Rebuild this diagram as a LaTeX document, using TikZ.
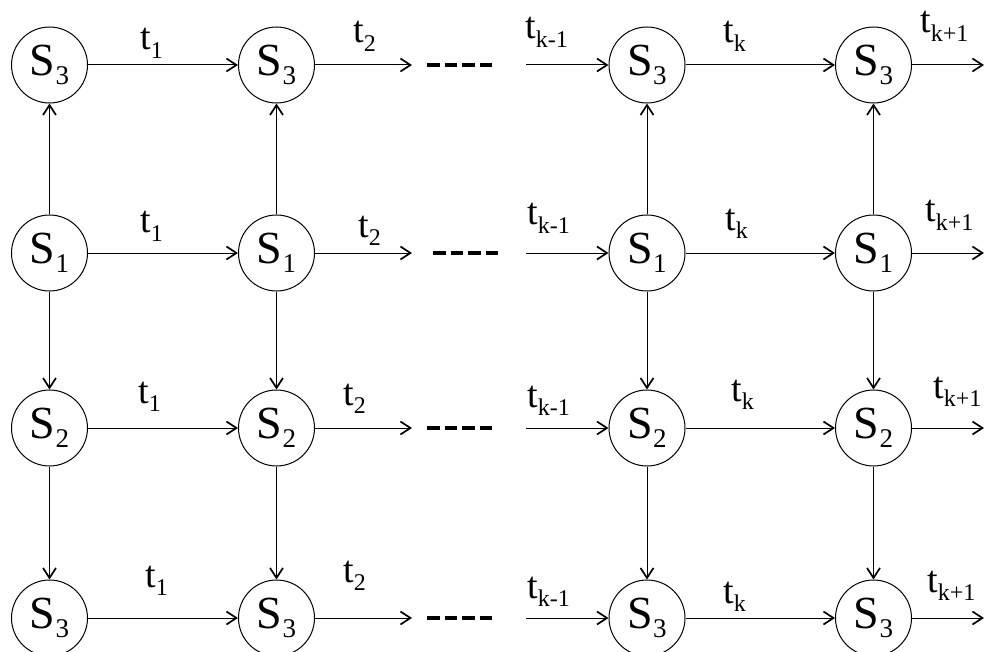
\documentclass[tikz,border=0pt]{standalone}
\usepackage{fontspec}
\setmainfont{Liberation Serif}
\newfontfamily\tnr{Liberation Serif}
\usetikzlibrary{arrows.meta}
\newcommand\Sst[1]{{\tnr\fontsize{46}{46}\selectfont S}\raisebox{-8.5pt}{\tnr\fontsize{27}{27}\selectfont #1}}
\newcommand\tlab[1]{{\tnr\fontsize{38}{38}\selectfont t}\raisebox{-8.5pt}{\tnr\fontsize{24}{24}\selectfont #1}}
\tikzset{
  st/.style={circle,draw,line width=1pt,minimum size=76pt,inner sep=0pt},
  lab/.style={anchor=base west,inner sep=0pt},
  arr/.style={line width=1pt,-{Straight Barb[length=10pt,width=13pt,line width=1.7pt]}},
  dots/.style={line width=3.6pt,dash pattern=on 12.5pt off 5pt}
}
\begin{document}
\begin{tikzpicture}[x=1pt,y=-1pt]
\useasboundingbox (0,0) rectangle (984,652);
% states
\foreach \r/\y/\s in {1/65/3,2/253/1,3/428/2,4/618/3}{
  \node[st] (n\r1) at (49.5,\y) {\Sst{\s}};
  \node[st] (n\r2) at (276.5,\y) {\Sst{\s}};
  \node[st] (n\r3) at (647,\y) {\Sst{\s}};
  \node[st] (n\r4) at (873.5,\y) {\Sst{\s}};
  \coordinate (e\r) at (412,\y);
  \coordinate (s\r) at (526,\y);
  \coordinate (o\r) at (984,\y);
  \draw[arr] (n\r1) -- (n\r2);
  \draw[arr] (n\r2) -- (e\r);
  \draw[arr] (s\r) -- (n\r3);
  \draw[arr] (n\r3) -- (n\r4);
  \draw[arr] (n\r4) -- (o\r);
}
% dashes
\coordinate (d1a) at (427,65); \coordinate (d1b) at (492,65);
\coordinate (d2a) at (433,253); \coordinate (d2b) at (498,253);
\coordinate (d3a) at (427,428); \coordinate (d3b) at (492,428);
\coordinate (d4a) at (427,618); \coordinate (d4b) at (492,618);
\foreach \r in {1,2,3,4}{\draw[dots] (d\r a) -- (d\r b);}
% vertical
\foreach \c in {1,2,3,4}{
  \draw[arr] (n2\c) -- (n1\c);
  \draw[arr] (n2\c) -- (n3\c);
  \draw[arr] (n3\c) -- (n4\c);
}
% labels row 1
\node[lab] (l11) at (140,50) {\tlab{1}};
\node[lab] (l12) at (353,43) {\tlab{2}};
\node[lab] (l13) at (525,39) {\tlab{k-1}};
\node[lab] (l14) at (723,43) {\tlab{k}};
\node[lab] (l15) at (920,33) {\tlab{k+1}};
% row 2
\node[lab] (l21) at (140,233) {\tlab{1}};
\node[lab] (l22) at (358,237) {\tlab{2}};
\node[lab] (l23) at (527,225) {\tlab{k-1}};
\node[lab] (l24) at (725,230) {\tlab{k}};
\node[lab] (l25) at (925,222) {\tlab{k+1}};
% row 3
\node[lab] (l31) at (138,403) {\tlab{1}};
\node[lab] (l32) at (343,405) {\tlab{2}};
\node[lab] (l33) at (527,407) {\tlab{k-1}};
\node[lab] (l34) at (731,401) {\tlab{k}};
\node[lab] (l35) at (933,398) {\tlab{k+1}};
% row 4
\node[lab] (l41) at (145,587) {\tlab{1}};
\node[lab] (l42) at (343,582) {\tlab{2}};
\node[lab] (l43) at (527,598) {\tlab{k-1}};
\node[lab] (l44) at (723,603) {\tlab{k}};
\node[lab] (l45) at (927,592) {\tlab{k+1}};
\end{tikzpicture}
\end{document}
